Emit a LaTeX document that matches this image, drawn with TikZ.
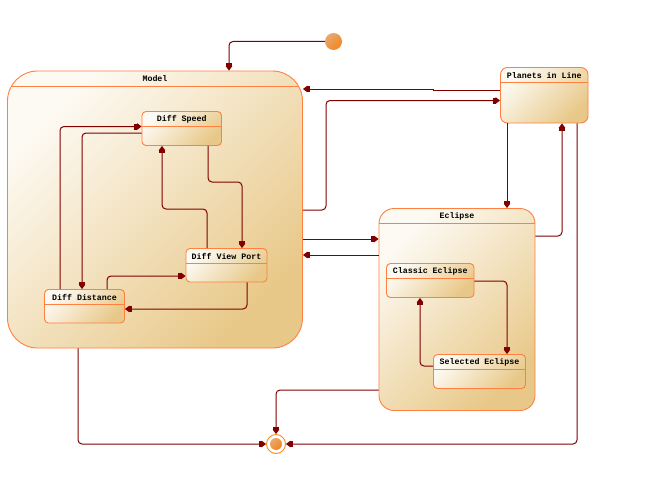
\documentclass[tikz,border=0pt]{standalone}
\usepackage{fontspec}
\newfontfamily\statefont{Liberation Mono}
\usetikzlibrary{arrows.meta}
\definecolor{conncol}{HTML}{800000}
\definecolor{bordercol}{HTML}{FF8040}
\definecolor{lightfill}{HTML}{FDFAF3}
\definecolor{darkfill}{HTML}{E8C888}
\definecolor{balllight}{HTML}{E9A86E}
\definecolor{balldark}{HTML}{F2861E}
\definecolor{ringcol}{HTML}{FF8C1A}
\tikzset{
  statebox/.style={draw=bordercol, line width=0.9pt, top color=lightfill, bottom color=darkfill, shading angle=45, inner sep=0pt},
  headline/.style={draw=bordercol, line width=0.9pt},
  title/.style={font=\statefont\bfseries\fontsize{8.3}{10}\selectfont, inner sep=0pt, text=black},
  conn/.style={draw=conncol, line width=1pt, rounded corners=4pt, -{Rectangle[length=3pt,width=6pt]Triangle[length=4.5pt,width=6.5pt]}},
  ball/.style={circle, inner sep=0pt, top color=balllight, bottom color=balldark, shading angle=45},
}
\newcommand\mkstate[8]{%
  \node[statebox, rounded corners=#8, minimum width={(#4-#2)*1pt}, minimum height={(#5-#3)*1pt}] (#1) at ({(#2+#4)/2},{(#3+#5)/2}) {};
  \begin{scope}
    \clip[rounded corners=#8] (#2,#3) rectangle (#4,#5);
    \draw[headline] (#2,#6) -- (#4,#6);
  \end{scope}
  \node[title] (#1-t) at ({(#2+#4)/2},{(#3+#6)/2+0.5}) {#7};
}
\begin{document}
\begin{tikzpicture}[x=1pt,y=-1pt]
\useasboundingbox (0,0) rectangle (647,487);
% states
\mkstate{model}{7.5}{71}{302.5}{348}{86}{Model}{30pt}
\mkstate{speed}{142}{111.5}{221.5}{145.5}{126.5}{Diff Speed}{4pt}
\mkstate{view}{186}{248.5}{267}{282}{263.5}{Diff View Port}{4pt}
\mkstate{dist}{44.5}{289.5}{124.5}{323}{304.5}{Diff Distance}{4pt}
\mkstate{planets}{500.5}{67.5}{588}{123}{82.5}{Planets in Line}{7pt}
\mkstate{eclipse}{379}{208.5}{535}{410.5}{223.5}{Eclipse}{15pt}
\mkstate{classic}{386.5}{263.5}{474}{297.5}{278.5}{Classic Eclipse}{4pt}
\mkstate{selected}{433.5}{354.5}{525.5}{388.5}{369.5}{Selected Eclipse}{4pt}
% pseudo states
\node[ball, minimum size=17pt] (init) at (333.5,41.5) {};
\node[circle, draw=ringcol, line width=0.9pt, minimum size=19pt, inner sep=0pt] (final) at (276,444) {};
\node[ball, minimum size=12pt] (finaldot) at (final.center) {};
% connectors
\draw[conn] (init.west) -| (model.north -| 229,0);
\draw[conn, rounded corners=0pt] (planets.west |- 0,90) -- (433,90) -- (433,89) -- (model.east |- 0,89);
\draw[conn] (model.east |- 0,210) -- (326,210) -- (326,100.5) -- (planets.west |- 0,100.5);
\draw[conn] (model.east |- 0,239) -- (eclipse.west |- 0,239);
\draw[conn] (eclipse.west |- 0,255) -- (model.east |- 0,255);
\draw[conn] (planets.south -| 507,0) -- (eclipse.north -| 507,0);
\draw[conn] (eclipse.east |- 0,236) -| (planets.south -| 562,0);
\draw[conn] (planets.south -| 577,0) |- (final.east);
\draw[conn] (eclipse.west |- 0,390) -| (final.north);
\draw[conn] (model.south -| 78,0) |- (final.west);
% inside Model
\draw[conn] (dist.north -| 60,0) |- (speed.west |- 0,126.5);
\draw[conn] (speed.west |- 0,133) -| (dist.north -| 82,0);
\draw[conn] (view.north -| 207,0) -- (207,209) -- (162,209) -- (speed.south -| 162,0);
\draw[conn] (speed.south -| 208,0) -- (208,182) -- (242,182) -- (view.north -| 242,0);
\draw[conn] (dist.north -| 107,0) |- (view.west |- 0,276);
\draw[conn] (view.south -| 247,0) |- (dist.east |- 0,309);
% inside Eclipse
\draw[conn] (classic.east |- 0,281) -| (selected.north -| 507,0);
\draw[conn] (selected.west |- 0,366) -| (classic.south -| 420,0);
\end{tikzpicture}
\end{document}
